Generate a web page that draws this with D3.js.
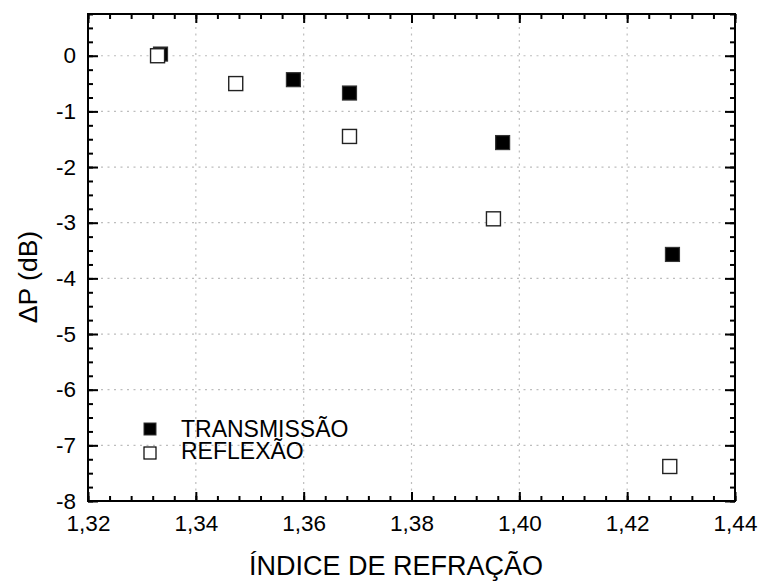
<!DOCTYPE html>
<html>
<head>
<meta charset="utf-8">
<script src="https://cdn.jsdelivr.net/npm/d3@7"></script>
<style>
  html, body { margin: 0; padding: 0; background: #fff; }
  svg { display: block; }
  text { font-family: "Liberation Sans", Arial, sans-serif; fill: #000; }
</style>
</head>
<body>
<svg id="chart" width="761" height="582"></svg>
<script>
// ---- data ----
const transIndex = [1.33345, 1.3581, 1.3685, 1.3969, 1.4284];
const transDeltaP = [0.03, -0.43, -0.67, -1.56, -3.57];
const reflIndex = [1.3329, 1.3474, 1.3685, 1.3952, 1.4279];
const reflDeltaP = [0.0, -0.50, -1.45, -2.93, -7.38];
const xTicks = [1.32, 1.34, 1.36, 1.38, 1.40, 1.42, 1.44];
const yTicks = [-8, -7, -6, -5, -4, -3, -2, -1, 0];
const seriesNames = ["TRANSMISSÃO", "REFLEXÃO"];
const xTitle = "ÍNDICE DE REFRAÇÃO";
const yTitle = "ΔP (dB)";

// ---- layout ----
const L = 88, R = 735, T = 14, B = 501;
const svg = d3.select("#chart");
const x = d3.scaleLinear().domain([1.32, 1.44]).range([L, R]);
const y = d3.scaleLinear().domain([-8, 0.75]).range([B, T]);

const xMinor = d3.range(0, 31).map(i => 1.32 + i * 0.004);
const yMinor = d3.range(0, 36).map(i => -8 + i * 0.25);
const fmtX = d => d.toFixed(2).replace(".", ",");
const fmtY = d => String(d);

// gridlines
const grid = svg.append("g").attr("stroke", "#bdbdbd").attr("stroke-width", 1.2)
  .attr("stroke-dasharray", "2,4.5");
grid.selectAll(".gx").data(xTicks.slice(1, -1)).join("line")
  .attr("x1", d => x(d)).attr("x2", d => x(d)).attr("y1", T).attr("y2", B);
grid.selectAll(".gy").data(yTicks.slice(1)).join("line")
  .attr("x1", L).attr("x2", R).attr("y1", d => y(d)).attr("y2", d => y(d));

function styleAxis(g) {
  g.select(".domain").remove();
  g.selectAll(".tick line").attr("stroke", "#000").attr("stroke-width", 2);
  g.selectAll(".tick text").attr("font-size", "22.5px").attr("fill", "#000");
}

// bottom
svg.append("g").attr("transform", `translate(0,${B})`)
  .call(d3.axisBottom(x).tickValues(xMinor).tickSize(-5).tickFormat(""))
  .call(styleAxis);
svg.append("g").attr("transform", `translate(0,${B})`)
  .call(d3.axisBottom(x).tickValues(xTicks).tickSize(-9).tickPadding(14).tickFormat(fmtX))
  .call(styleAxis);
// top
svg.append("g").attr("transform", `translate(0,${T})`)
  .call(d3.axisTop(x).tickValues(xMinor).tickSize(-5).tickFormat(""))
  .call(styleAxis);
svg.append("g").attr("transform", `translate(0,${T})`)
  .call(d3.axisTop(x).tickValues(xTicks).tickSize(-9).tickFormat(""))
  .call(styleAxis);
// left
svg.append("g").attr("transform", `translate(${L},0)`)
  .call(d3.axisLeft(y).tickValues(yMinor).tickSize(-5).tickFormat(""))
  .call(styleAxis);
svg.append("g").attr("transform", `translate(${L},0)`)
  .call(d3.axisLeft(y).tickValues(yTicks).tickSize(-10).tickPadding(12).tickFormat(fmtY))
  .call(styleAxis);
// right
svg.append("g").attr("transform", `translate(${R},0)`)
  .call(d3.axisRight(y).tickValues(yMinor).tickSize(-5).tickFormat(""))
  .call(styleAxis);
svg.append("g").attr("transform", `translate(${R},0)`)
  .call(d3.axisRight(y).tickValues(yTicks).tickSize(-10).tickFormat(""))
  .call(styleAxis);

// frame
svg.append("rect").attr("x", L).attr("y", T).attr("width", R - L).attr("height", B - T)
  .attr("fill", "none").attr("stroke", "#000").attr("stroke-width", 2);

// markers
const S = 14;
const trans = transIndex.map((v, i) => ({ x: v, y: transDeltaP[i] }));
const refl = reflIndex.map((v, i) => ({ x: v, y: reflDeltaP[i] }));
svg.append("g").selectAll("rect").data(trans).join("rect")
  .attr("x", d => x(d.x) - S / 2).attr("y", d => y(d.y) - S / 2)
  .attr("width", S).attr("height", S)
  .attr("fill", "#000").attr("stroke", "#333").attr("stroke-width", 1.2);
svg.append("g").selectAll("rect").data(refl).join("rect")
  .attr("x", d => x(d.x) - S / 2).attr("y", d => y(d.y) - S / 2)
  .attr("width", S).attr("height", S)
  .attr("fill", "#fff").attr("stroke", "#222").attr("stroke-width", 1.4);

// legend
const lg = svg.append("g");
const LS = 12;
lg.append("rect").attr("x", 150 - LS / 2).attr("y", 429 - LS / 2).attr("width", LS).attr("height", LS)
  .attr("fill", "#000").attr("stroke", "#333").attr("stroke-width", 1);
lg.append("rect").attr("x", 150 - LS / 2).attr("y", 453 - LS / 2).attr("width", LS).attr("height", LS)
  .attr("fill", "#fff").attr("stroke", "#000").attr("stroke-width", 1.2);
lg.append("text").attr("x", 181).attr("y", 437).attr("font-size", "23px").text(seriesNames[0]);
lg.append("text").attr("x", 181).attr("y", 459).attr("font-size", "23px").text(seriesNames[1]);

// titles
svg.append("text").attr("x", 396).attr("y", 575).attr("text-anchor", "middle")
  .attr("font-size", "27px").text(xTitle);
svg.append("text").attr("transform", "translate(37,277) rotate(-90)").attr("text-anchor", "middle")
  .attr("font-size", "26.5px").text(yTitle);
</script>
</body>
</html>
